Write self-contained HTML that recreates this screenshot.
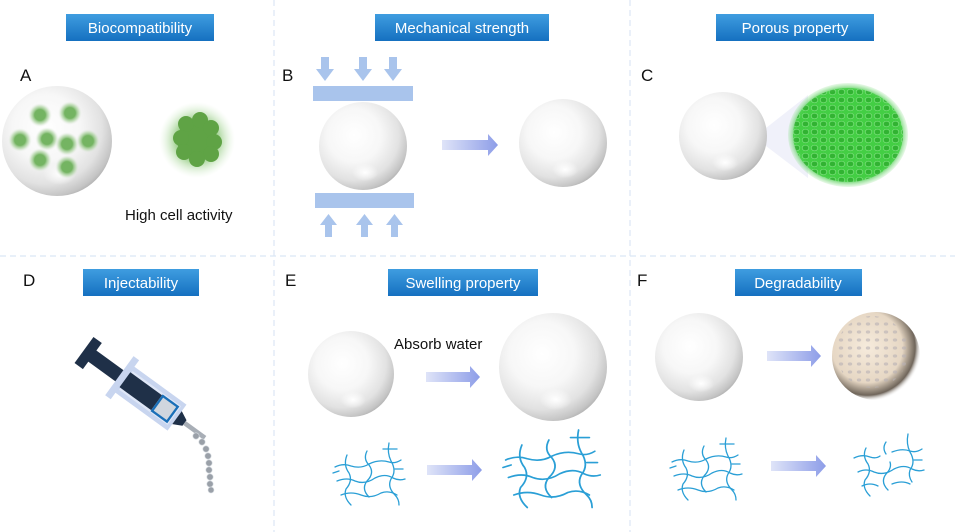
<!DOCTYPE html>
<html><head><meta charset="utf-8"><style>
html,body{margin:0;padding:0;background:#fff;}
svg{display:block;font-family:"Liberation Sans",Arial,sans-serif;}
</style></head><body>
<svg width="955" height="532" viewBox="0 0 955 532" xmlns="http://www.w3.org/2000/svg">
<defs>
<radialGradient id="sph" cx="0.4" cy="0.38" r="0.68">
<stop offset="0" stop-color="#ffffff"/><stop offset="0.45" stop-color="#f7f7f7"/><stop offset="0.75" stop-color="#e2e2e2"/><stop offset="0.92" stop-color="#c4c4c4"/><stop offset="1" stop-color="#a9a9a9"/></radialGradient>
<radialGradient id="hl" cx="0.5" cy="0.5" r="0.5"><stop offset="0" stop-color="#fff" stop-opacity="1"/><stop offset="1" stop-color="#fff" stop-opacity="0"/></radialGradient>
<linearGradient id="lab" x1="0" y1="0" x2="0" y2="1"><stop offset="0" stop-color="#3f9de0"/><stop offset="1" stop-color="#1570c0"/></linearGradient>
<linearGradient id="arr" x1="0" y1="0" x2="1" y2="0"><stop offset="0" stop-color="#dfe4f8"/><stop offset="1" stop-color="#8d9de8"/></linearGradient>
<radialGradient id="cell" cx="0.5" cy="0.5" r="0.5"><stop offset="0.45" stop-color="#74b462"/><stop offset="0.75" stop-color="#b2d6a6" stop-opacity="0.6"/><stop offset="1" stop-color="#eee" stop-opacity="0"/></radialGradient>
<radialGradient id="glow" cx="0.5" cy="0.5" r="0.5"><stop offset="0.45" stop-color="#7fc06a"/><stop offset="1" stop-color="#d8efd0" stop-opacity="0"/></radialGradient>
<radialGradient id="grn" cx="0.5" cy="0.5" r="0.5"><stop offset="0" stop-color="#3fcf3f"/><stop offset="0.85" stop-color="#36c43a"/><stop offset="1" stop-color="#8fe08f" stop-opacity="0.2"/></radialGradient>
<radialGradient id="deg" cx="0.4" cy="0.4" r="0.62"><stop offset="0" stop-color="#f6ebdc"/><stop offset="0.65" stop-color="#e6d7c4"/><stop offset="0.88" stop-color="#6f655a"/><stop offset="1" stop-color="#fff" stop-opacity="0"/></radialGradient>
<pattern id="pores" width="9" height="8" patternUnits="userSpaceOnUse"><rect width="9" height="8" fill="#45cf45"/><ellipse cx="4.5" cy="4" rx="3.3" ry="2.8" fill="#30b030" stroke="#8ae88a" stroke-width="0.7"/></pattern>
<pattern id="dp" width="9" height="8" patternUnits="userSpaceOnUse"><ellipse cx="4" cy="4" rx="2.2" ry="1.6" fill="#b8b0b4" opacity="0.6"/></pattern>
<g id="ball"><circle r="1" fill="url(#sph)"/><ellipse cx="0.05" cy="0.6" rx="0.3" ry="0.2" fill="url(#hl)"/></g>
<g id="net" fill="none" stroke="#2a9fd6" stroke-width="1.3" stroke-linecap="round">
<path d="M2 24 Q10 20 18 23 Q28 26 36 21 Q46 16 56 19 Q62 21 68 17"/>
<path d="M4 38 Q14 34 22 38 Q32 42 42 35 Q52 30 60 35 Q66 38 72 36"/>
<path d="M8 52 Q18 48 28 52 Q38 56 48 50 Q56 47 64 52"/>
<path d="M14 12 Q10 22 16 30 Q20 38 13 46 Q10 54 18 62"/>
<path d="M34 8 Q30 16 36 22 Q42 30 34 38 Q28 46 36 54"/>
<path d="M56 0 Q54 10 58 18 Q64 28 58 36 Q54 44 62 52 Q66 56 66 62"/>
<path d="M50 6 L64 6"/><path d="M62 26 L70 26"/><path d="M0 30 L6 28"/>
</g>
<g id="net2" fill="none" stroke="#2a9fd6" stroke-width="1.3" stroke-linecap="round">
<path d="M2 24 Q10 20 18 23 Q24 25 28 22 M40 18 Q50 14 58 17 Q64 19 70 15"/>
<path d="M6 38 Q14 34 22 38 Q32 42 42 35 Q52 30 60 35 Q66 38 72 36"/>
<path d="M10 52 Q18 48 26 52 M40 50 Q50 46 58 50"/>
<path d="M14 14 Q10 22 16 30 Q20 38 13 46 Q10 54 18 62"/>
<path d="M34 8 Q30 14 34 20 M38 28 Q40 34 34 40 Q28 48 36 56"/>
<path d="M56 0 Q54 10 58 18 Q64 28 58 36 Q56 42 60 48"/>
<path d="M62 26 L70 26"/>
</g>
</defs>

<!-- dividers -->
<g stroke="#dbe6f5" stroke-width="1.2" stroke-dasharray="6,4">
<line x1="274" y1="0" x2="274" y2="532"/><line x1="630" y1="0" x2="630" y2="532"/>
<line x1="0" y1="256" x2="955" y2="256"/>
</g>

<!-- labels -->
<g font-size="15" fill="#fff" text-anchor="middle">
<rect x="66" y="14" width="148" height="27" fill="url(#lab)"/><text x="140" y="33">Biocompatibility</text>
<rect x="375" y="14" width="174" height="27" fill="url(#lab)"/><text x="462" y="33">Mechanical strength</text>
<rect x="716" y="14" width="158" height="27" fill="url(#lab)"/><text x="795" y="33">Porous property</text>
<rect x="83" y="269" width="116" height="27" fill="url(#lab)"/><text x="141" y="288">Injectability</text>
<rect x="388" y="269" width="150" height="27" fill="url(#lab)"/><text x="463" y="288">Swelling property</text>
<rect x="735" y="269" width="127" height="27" fill="url(#lab)"/><text x="798" y="288">Degradability</text>
</g>
<g font-size="17" fill="#111">
<text x="20" y="81">A</text><text x="282" y="81">B</text><text x="641" y="81">C</text>
<text x="23" y="286">D</text><text x="285" y="286">E</text><text x="637" y="286">F</text>
</g>

<!-- A -->
<use href="#ball" transform="translate(57,141) scale(55)"/>
<g fill="url(#cell)">
<circle cx="40" cy="115" r="12"/><circle cx="70" cy="113" r="12"/><circle cx="20" cy="140" r="12"/>
<circle cx="47" cy="139" r="12"/><circle cx="67" cy="144" r="12"/><circle cx="88" cy="141" r="12"/>
<circle cx="40" cy="160" r="12"/><circle cx="67" cy="167" r="12"/></g>
<circle cx="197" cy="140" r="38" fill="url(#glow)"/>
<g fill="#5fa345"><circle cx="197" cy="140" r="20"/><circle cx="186" cy="124" r="8"/><circle cx="200" cy="120" r="8"/><circle cx="211" cy="128" r="8"/><circle cx="181" cy="138" r="8"/><circle cx="214" cy="142" r="8"/><circle cx="184" cy="152" r="8"/><circle cx="211" cy="154" r="8"/><circle cx="197" cy="159" r="8"/></g>
<text x="125" y="220" font-size="15" fill="#111">High cell activity</text>

<!-- B -->
<g fill="#a9c4ec">
<rect x="313" y="86" width="100" height="15"/><rect x="315" y="193" width="99" height="15"/>
<path d="M321 57h8v12h5l-9 12-9-12h5z"/><path d="M359 57h8v12h5l-9 12-9-12h5z"/><path d="M389 57h8v12h5l-9 12-9-12h5z"/>
<path d="M331 237h-6v-12h-5l8.5-11 8.5 11h-5v12z"/><path d="M367 237h-6v-12h-5l8.5-11 8.5 11h-5v12z"/><path d="M397 237h-6v-12h-5l8.5-11 8.5 11h-5v12z"/>
</g>
<use href="#ball" transform="translate(363,146) scale(44)"/>
<path d="M442 140h46v-6l10 11-10 11v-6h-46z" fill="url(#arr)"/>
<use href="#ball" transform="translate(563,143) scale(44)"/>

<!-- C -->
<path d="M766 128 L808 95 L808 178 L766 146 Z" fill="#eef0fa" opacity="0.9"/>
<use href="#ball" transform="translate(723,136) scale(44)"/>
<ellipse cx="848" cy="135" rx="60" ry="52" fill="url(#grn)"/>
<ellipse cx="848" cy="135" rx="55" ry="47" fill="url(#pores)" opacity="0.85"/>

<!-- D syringe -->
<g transform="translate(84,350) rotate(36) scale(1.15)">
<rect x="0" y="-14" width="9" height="28" fill="#1f3048"/>
<rect x="8" y="-6" width="36" height="12" fill="#1f3048"/>
<rect x="38" y="-21" width="6" height="42" fill="#c8d5ef"/>
<rect x="42" y="-14" width="58" height="28" fill="#c8d5ef"/>
<rect x="45" y="-10" width="52" height="20" fill="#dfe7f7"/>
<rect x="44" y="-8" width="34" height="16" fill="#1f3048"/>
<rect x="78" y="-9" width="18" height="18" fill="#1a6fb8"/>
<rect x="80" y="-7" width="14" height="14" fill="#d0d6de"/>
<path d="M100 -7 L108 -3 L108 3 L100 7 Z" fill="#1f3048"/>
<rect x="108" y="-2" width="22" height="4" fill="#a8aeb6"/>
</g>
<g fill="#9aa0a8" stroke="#d8dde2" stroke-width="0.6">
<circle cx="196" cy="436" r="3.2"/><circle cx="202" cy="442" r="3.2"/><circle cx="206" cy="449" r="3.2"/><circle cx="208" cy="456" r="3.2"/><circle cx="209" cy="463" r="3.2"/><circle cx="209" cy="470" r="3.2"/><circle cx="210" cy="477" r="3.2"/><circle cx="210" cy="484" r="3.2"/><circle cx="211" cy="490" r="3"/>
</g>

<!-- E -->
<use href="#ball" transform="translate(351,374) scale(43)"/>
<text x="394" y="349" font-size="15" fill="#111">Absorb water</text>
<path d="M426 372h44v-6l10 11-10 11v-6h-44z" fill="url(#arr)"/>
<use href="#ball" transform="translate(553,367) scale(54)"/>
<use href="#net" transform="translate(333,443)"/>
<path d="M427 465h45v-6l10 11-10 11v-6h-45z" fill="url(#arr)"/>
<use href="#net" transform="translate(503,430) scale(1.35,1.25)"/>

<!-- F -->
<use href="#ball" transform="translate(699,357) scale(44)"/>
<path d="M767 351h44v-6l10 11-10 11v-6h-44z" fill="url(#arr)"/>
<circle cx="876" cy="356" r="44" fill="url(#deg)"/>
<circle cx="872" cy="352" r="36" fill="url(#dp)"/>
<use href="#net" transform="translate(670,438)"/>
<path d="M771 461h45v-6l10 11-10 11v-6h-45z" fill="url(#arr)"/>
<use href="#net2" transform="translate(852,434)"/>
</svg>
</body></html>
